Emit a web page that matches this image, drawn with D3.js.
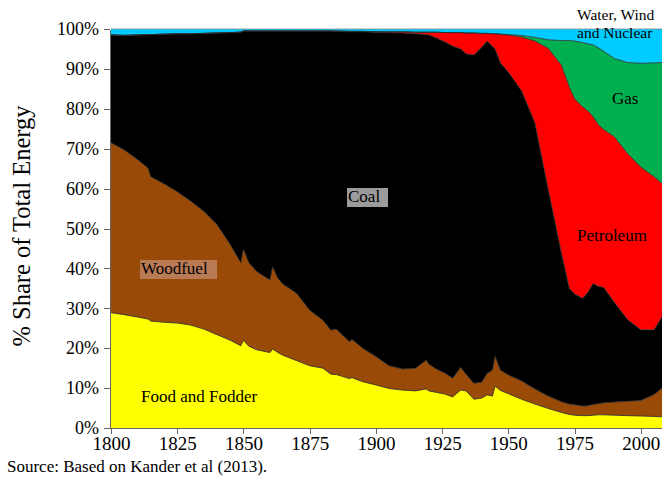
<!DOCTYPE html>
<html>
  <style>
	body {
		margin: 0;
		background: white;
	}
	.axis path,
	.axis line {
		fill: none;
		stroke: #666;
		shape-rendering: crispEdges;
	}
  </style>
  <head>
	<title>Share of Total Energy</title>
	<script src="https://d3js.org/d3.v7.min.js"></script>
  </head>
  <body>
	<svg id="chart" width="662" height="477"></svg>
	<script type="text/javascript">
		var years = [1800, 1805, 1810, 1814, 1815, 1820, 1825, 1830, 1835, 1840, 1845, 1849, 1850, 1852, 1855, 1860, 1861, 1863, 1865, 1870,
			1875, 1880, 1883, 1885, 1890, 1891, 1895, 1900, 1905, 1910, 1915, 1919, 1920, 1923, 1926, 1929, 1932, 1934, 1937, 1940,
			1942, 1944, 1945, 1947, 1950, 1955, 1960, 1965, 1970, 1973, 1975, 1978, 1980, 1982, 1984, 1986, 1990, 1995, 2000, 2005, 2008];
		var food = [28.9, 28.4, 27.8, 27.3, 26.8, 26.5, 26.3, 25.8, 24.8, 23.4, 22.0, 20.6, 22.0, 20.5, 19.6, 18.9, 19.8, 18.9, 18.2, 16.9,
			15.6, 15.0, 13.5, 13.4, 12.4, 12.6, 11.6, 10.8, 9.9, 9.5, 9.3, 9.8, 9.3, 8.9, 8.5, 7.8, 9.5, 9.3, 7.2, 7.5,
			8.3, 8.0, 10.5, 9.4, 8.6, 7.2, 6.0, 4.9, 3.9, 3.4, 3.2, 3.1, 3.1, 3.2, 3.3, 3.3, 3.2, 3.1, 3.0, 2.9, 2.8];
		var woodfuel = [42.6, 41.3, 39.5, 37.8, 36.2, 34.7, 32.9, 31.1, 29.5, 27.6, 24.0, 20.8, 22.8, 21.0, 19.6, 18.2, 20.6, 18.6, 17.8, 16.9,
			13.9, 12.0, 11.0, 11.4, 9.2, 9.6, 8.4, 7.1, 5.7, 5.3, 5.7, 7.2, 6.7, 5.8, 5.3, 4.7, 5.7, 4.2, 4.0, 4.0,
			5.4, 6.5, 7.5, 5.1, 4.7, 4.6, 3.8, 3.1, 2.7, 2.6, 2.6, 2.4, 2.5, 2.7, 2.8, 3.0, 3.3, 3.6, 3.9, 5.5, 7.2];
		var coal = [27.0, 28.7, 31.2, 33.5, 35.6, 37.5, 39.6, 41.9, 44.6, 48.0, 53.1, 57.8, 54.7, 58.0, 60.3, 62.4, 59.1, 62.0, 63.5, 65.7,
			70.0, 72.5, 75.0, 74.6, 77.7, 77.1, 79.3, 81.3, 83.5, 84.2, 83.8, 81.6, 82.5, 83.0, 83.0, 83.2, 79.8, 80.3, 82.3, 84.0,
			83.3, 81.1, 77.0, 77.0, 75.9, 72.7, 66.7, 52.0, 37.4, 29.0, 27.8, 27.0, 28.4, 30.3, 29.4, 28.9, 25.0, 20.5, 17.7, 16.2, 17.9];
		var petroleum = [0, 0, 0, 0, 0, 0, 0, 0, 0, 0, 0, 0, 0, 0, 0, 0, 0, 0, 0, 0,
			0, 0, 0, 0.1, 0.1, 0.1, 0.1, 0.1, 0.2, 0.3, 0.4, 0.6, 0.7, 1.5, 2.3, 3.4, 4.1, 5.2, 5.5, 3.4,
			1.9, 3.2, 3.8, 7.2, 9.3, 13.5, 20.5, 35.2, 47.0, 50.5, 48.9, 48.0, 45.5, 41.8, 40.5, 39.6, 41.5, 41.6, 40.8, 38.4, 33.4];
		var gas = [0, 0, 0, 0, 0, 0, 0, 0, 0, 0, 0, 0, 0, 0, 0, 0, 0, 0, 0, 0,
			0, 0, 0, 0, 0, 0, 0, 0, 0, 0, 0, 0, 0, 0, 0, 0, 0, 0, 0, 0,
			0, 0, 0, 0, 0.1, 0.4, 0.9, 2.1, 6.1, 11.6, 14.5, 16.1, 16.8, 18.0, 19.3, 19.6, 19.6, 22.8, 26.0, 28.5, 30.3];
		var waterWindNuclear = [1.5, 1.6, 1.5, 1.4, 1.4, 1.3, 1.2, 1.2, 1.1, 1.0, 0.9, 0.8, 0.5, 0.5, 0.5, 0.5, 0.5, 0.5, 0.5, 0.5,
			0.5, 0.5, 0.5, 0.5, 0.6, 0.6, 0.6, 0.7, 0.7, 0.7, 0.8, 0.8, 0.8, 0.8, 0.9, 0.9, 0.9, 1.0, 1.0, 1.1,
			1.1, 1.2, 1.2, 1.3, 1.4, 1.6, 2.1, 2.7, 2.9, 2.9, 3.0, 3.4, 3.7, 4.0, 4.7, 5.6, 7.4, 8.4, 8.6, 8.5, 8.4];

		var keys = ["food", "woodfuel", "coal", "petroleum", "gas", "wwn"];
		var colors = ["#ffff00", "#994a06", "#000000", "#ff0000", "#00b050", "#00ccff"];
		var xTicks = [1800, 1825, 1850, 1875, 1900, 1925, 1950, 1975, 2000];
		var yTicks = [0, 10, 20, 30, 40, 50, 60, 70, 80, 90, 100];

		var serif = "'Liberation Serif', 'Times New Roman', Times, serif";

		var table = years.map(function(yr, i) {
			return {
				year: yr,
				food: food[i],
				woodfuel: woodfuel[i],
				coal: coal[i],
				petroleum: petroleum[i],
				gas: gas[i],
				wwn: waterWindNuclear[i]
			};
		});

		var svg = d3.select("#chart");

		var xScale = d3.scaleLinear().domain([1800, 2008]).range([111, 662]);
		var yScale = d3.scaleLinear().domain([0, 100]).range([428, 29]);

		var series = d3.stack().keys(keys)(table);

		var area = d3.area()
			.x(function(d) { return xScale(d.data.year); })
			.y0(function(d) { return yScale(d[0]); })
			.y1(function(d) { return yScale(d[1]); });

		var edge = d3.line()
			.x(function(d) { return xScale(d.data.year); })
			.y(function(d) { return yScale(d[1]); });

		svg.append("g")
		  .selectAll("path")
		  .data(series)
		  .enter().append("path")
			.attr("d", area)
			.attr("fill", function(d, i) { return colors[i]; });

		svg.append("g")
		  .selectAll("path")
		  .data(series)
		  .enter().append("path")
			.attr("d", edge)
			.attr("fill", "none")
			.attr("stroke", function(d, i) { return i == 5 ? "#888" : "#2a2a2a"; })
			.attr("stroke-width", 0.8);

		var yAxis = svg.append("g")
			.attr("class", "axis")
			.attr("transform", "translate(110,0)")
			.call(d3.axisLeft(yScale).tickValues(yTicks).tickSize(6).tickSizeOuter(0).tickPadding(5)
				.tickFormat(function(d) { return d + "%"; }));
		yAxis.attr("font-family", null);
		yAxis.selectAll("text")
			.style("font-family", serif)
			.style("font-size", "18px")
			.attr("fill", "#000");

		var xAxis = svg.append("g")
			.attr("class", "axis")
			.attr("transform", "translate(0,428)")
			.call(d3.axisBottom(xScale).tickValues(xTicks).tickSize(6).tickSizeOuter(0).tickPadding(3)
				.tickFormat(d3.format("d")));
		xAxis.attr("font-family", null);
		xAxis.selectAll("text")
			.style("font-family", serif)
			.style("font-size", "19px")
			.attr("fill", "#000");

		svg.append("text")
			.attr("transform", "translate(30,226) rotate(-90)")
			.attr("text-anchor", "middle")
			.style("font-family", serif)
			.style("font-size", "24.5px")
			.text("% Share of Total Energy");

		svg.append("text")
			.attr("x", 7)
			.attr("y", 472)
			.style("font-family", serif)
			.style("font-size", "17px")
			.text("Source: Based on Kander et al (2013).");

		svg.append("rect")
			.attr("x", 347).attr("y", 188)
			.attr("width", 41).attr("height", 19)
			.attr("fill", "#9b9b9b");

		svg.append("rect")
			.attr("x", 140).attr("y", 260)
			.attr("width", 77).attr("height", 19)
			.attr("fill", "#b97a56");

		var notes = [
			{text: "Coal", x: 348, y: 202, size: 17},
			{text: "Woodfuel", x: 141, y: 274, size: 17},
			{text: "Food and Fodder", x: 141, y: 402, size: 17},
			{text: "Petroleum", x: 577, y: 241, size: 17},
			{text: "Gas", x: 612, y: 104, size: 17},
			{text: "Water, Wind", x: 577, y: 20, size: 15.5},
			{text: "and Nuclear", x: 577, y: 38, size: 15.5}
		];
		svg.selectAll(".note")
		  .data(notes)
		  .enter().append("text")
			.attr("class", "note")
			.attr("x", function(d) { return d.x; })
			.attr("y", function(d) { return d.y; })
			.style("font-family", serif)
			.style("font-size", function(d) { return d.size + "px"; })
			.text(function(d) { return d.text; });
	</script>
  </body>
</html>
